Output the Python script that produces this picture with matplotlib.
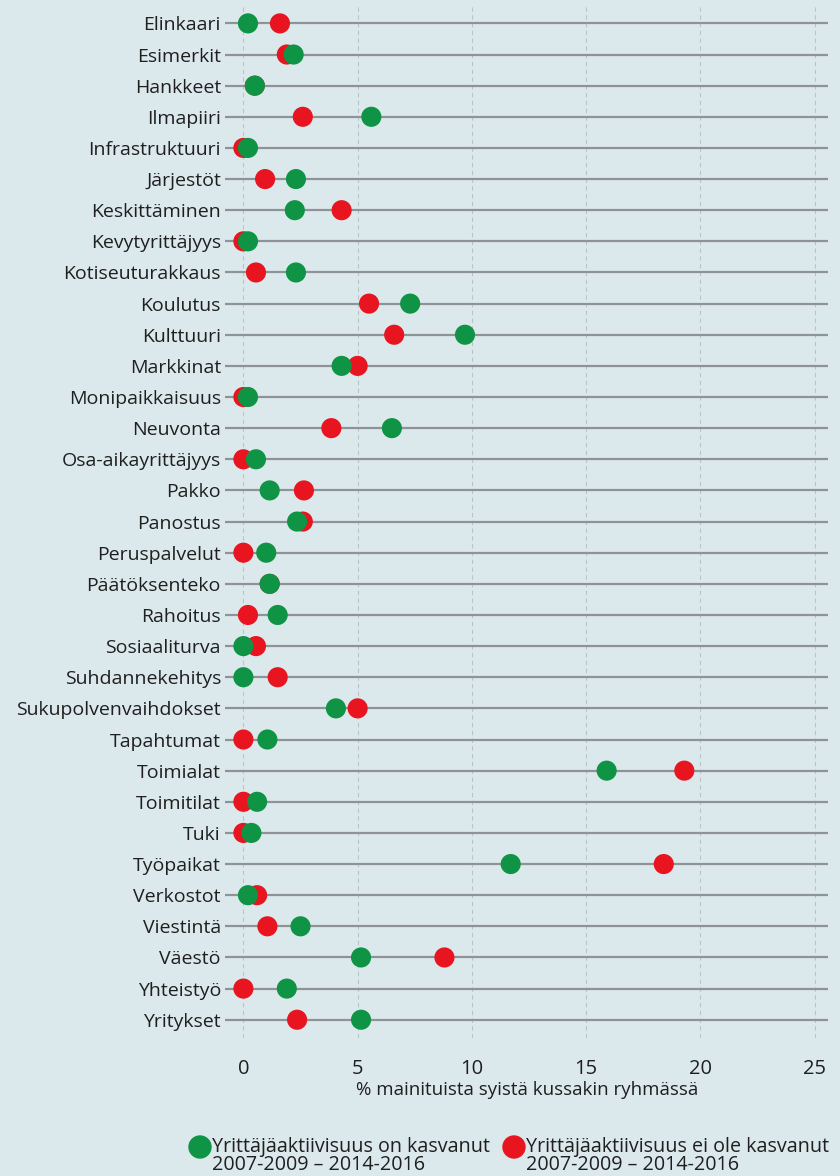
import matplotlib
matplotlib.use('Agg')
import matplotlib.pyplot as plt
from matplotlib.patches import Ellipse
import numpy as np

plt.rcParams['font.family'] = ['Open Sans', 'DejaVu Sans']

# Reasons mentioned, in the order they are listed top to bottom
categories = [
    'Elinkaari', 'Esimerkit', 'Hankkeet', 'Ilmapiiri', 'Infrastruktuuri',
    'Järjestöt', 'Keskittäminen', 'Kevytyrittäjyys', 'Kotiseuturakkaus',
    'Koulutus', 'Kulttuuri', 'Markkinat', 'Monipaikkaisuus', 'Neuvonta',
    'Osa-aikayrittäjyys', 'Pakko', 'Panostus', 'Peruspalvelut',
    'Päätöksenteko', 'Rahoitus', 'Sosiaaliturva', 'Suhdannekehitys',
    'Sukupolvenvaihdokset', 'Tapahtumat', 'Toimialat', 'Toimitilat', 'Tuki',
    'Työpaikat', 'Verkostot', 'Viestintä', 'Väestö', 'Yhteistyö', 'Yritykset',
]

# % of mentioned reasons, group where entrepreneurial activity has grown
grown = [
    0.2, 2.2, 0.5, 5.6, 0.2,
    2.3, 2.25, 0.2, 2.3,
    7.3, 9.7, 4.3, 0.2, 6.5,
    0.55, 1.15, 2.35, 1.0,
    1.15, 1.5, 0.0, 0.0,
    4.05, 1.05, 15.9, 0.6, 0.35,
    11.7, 0.2, 2.5, 5.15, 1.9, 5.15,
]

# % of mentioned reasons, group where it has not grown
not_grown = [
    1.6, 1.9, 0.5, 2.6, 0.0,
    0.95, 4.3, 0.0, 0.55,
    5.5, 6.6, 5.0, 0.0, 3.85,
    0.0, 2.65, 2.6, 0.0,
    1.15, 0.2, 0.55, 1.5,
    5.0, 0.0, 19.3, 0.0, 0.0,
    18.4, 0.6, 1.05, 8.8, 0.0, 2.35,
]

xticks = [0, 5, 10, 15, 20, 25]

green = '#0e9444'
red = '#e8141f'
bg = '#dce9ec'
txt_col = '#1f1f1f'

fig = plt.figure(figsize=(8.4, 11.76), dpi=100, facecolor=bg)
ax = fig.add_axes([0.268, 0.117, 0.718, 0.879])
ax.set_facecolor(bg)

y = np.arange(len(categories))

# dashed vertical guides
for t in xticks:
    ax.axvline(t, color='#b9c4c7', lw=0.8, ls=(0, (4, 3)), zorder=1)

# one grey line per category
for yi in y:
    ax.plot([-0.8, 25.6], [yi, yi], color='#8e9395', lw=1.6, zorder=2,
            solid_capstyle='butt', clip_on=False)

ax.scatter(not_grown, y, s=210, color=red, edgecolors='none', zorder=3,
           clip_on=False)
ax.scatter(grown, y, s=210, color=green, edgecolors='none', zorder=4,
           clip_on=False)

ax.set_xlim(-0.8, 25.6)
ax.set_ylim(len(categories) - 0.4, -0.6)

ax.set_yticks(y)
ax.set_yticklabels(categories, fontsize=14, color=txt_col)
ax.tick_params(axis='y', length=0, pad=3)

ax.set_xticks(xticks)
ax.set_xticklabels([str(t) for t in xticks], fontsize=14.5, color=txt_col)
ax.tick_params(axis='x', length=0, pad=15)
ax.set_xlabel('% mainituista syistä kussakin ryhmässä', fontsize=13.5,
              color=txt_col, labelpad=1)

for s in ax.spines.values():
    s.set_visible(False)

# legend at the bottom
lx = [200 / 840, 514 / 840]
ly = 1 - 1147 / 1176
labels = ['Yrittäjäaktiivisuus on kasvanut\n2007-2009 – 2014-2016',
          'Yrittäjäaktiivisuus ei ole kasvanut\n2007-2009 – 2014-2016']
for xpos, col, txt in zip(lx, [green, red], labels):
    fig.add_artist(Ellipse((xpos, ly), 22 / 840, 22 / 1176,
                           transform=fig.transFigure, color=col))
    fig.text(xpos + 12 / 840, ly - 9 / 1176, txt, fontsize=14.2,
             color=txt_col, va='center', ha='left', linespacing=0.92)

fig.savefig('out.png', dpi=100, facecolor=bg)
plt.close(fig)
